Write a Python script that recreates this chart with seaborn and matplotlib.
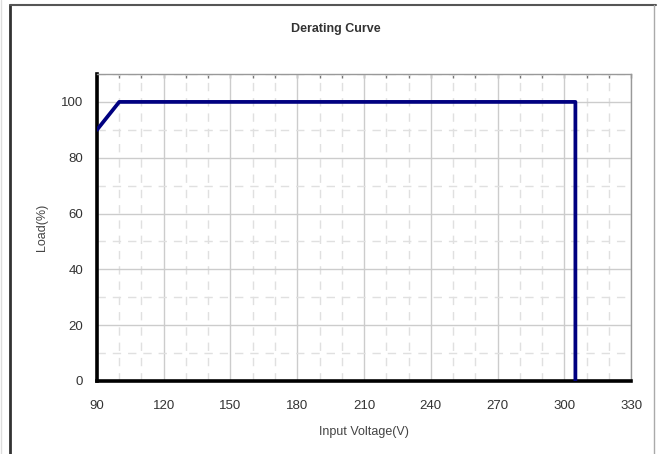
import matplotlib
matplotlib.use("Agg")
import matplotlib.pyplot as plt
from matplotlib.lines import Line2D
from matplotlib.ticker import MultipleLocator
import pandas as pd
import seaborn as sns

# data
voltage = [90, 100, 305, 305]
load = [90, 100, 100, 0]
x_ticks = [90, 120, 150, 180, 210, 240, 270, 300, 330]
y_ticks = [0, 20, 40, 60, 80, 100]

df = pd.DataFrame({"Input Voltage(V)": voltage, "Load(%)": load})

sns.set_style("white")
plt.rcParams["font.family"] = ["Liberation Sans", "DejaVu Sans"]

fig = plt.figure(figsize=(6.58, 4.54), dpi=100)
ax = fig.add_axes([0.1474, 0.1608, 0.8116, 0.6762])

sns.lineplot(data=df, x="Input Voltage(V)", y="Load(%)", sort=False,
             estimator=None, color="#000080", linewidth=2.7, ax=ax, zorder=5)

ax.set_xlim(90, 330)
ax.set_ylim(0, 110)
ax.set_xticks(x_ticks)
ax.set_yticks(y_ticks)
ax.xaxis.set_minor_locator(MultipleLocator(10))
ax.yaxis.set_minor_locator(MultipleLocator(10))

ax.grid(which="major", color="#cccccc", linewidth=1.0, linestyle="-")
ax.grid(which="minor", color="#e0e0e0", linewidth=1.0, linestyle=(0, (6, 5)))
ax.set_axisbelow(True)

for side in ["left", "bottom"]:
    ax.spines[side].set_color("black")
    ax.spines[side].set_linewidth(2.6)
for side in ["top", "right"]:
    ax.spines[side].set_color("#999999")
    ax.spines[side].set_linewidth(1.0)

ax.tick_params(which="major", direction="in", length=4, width=2, color="black",
               labelsize=9.5, labelcolor="#333333")
ax.tick_params(axis="x", which="major", pad=14)
ax.tick_params(axis="y", which="major", pad=10)
ax.tick_params(which="minor", length=0)

top = ax.secondary_xaxis("top")
top.set_xticks(range(90, 331, 10))
top.tick_params(direction="in", length=3, width=1, color="#777777", labeltop=False)
top.spines["top"].set_visible(False)

ax.set_xlabel("Input Voltage(V)", fontsize=9, color="#444444", labelpad=10)
ax.set_ylabel("Load(%)", fontsize=9, color="#444444", labelpad=9)
fig.text(0.51, 0.937, "Derating Curve", ha="center", va="center",
         fontsize=9, color="#333333", fontweight="bold")

# outer frame of the figure
fig.add_artist(Line2D([10 / 658, 10 / 658], [0, 1 - 5 / 454], color="#333333", linewidth=2))
fig.add_artist(Line2D([10 / 658, 656 / 658], [1 - 5 / 454, 1 - 5 / 454], color="#555555", linewidth=1.5))
fig.add_artist(Line2D([654 / 658, 654 / 658], [0, 1 - 5 / 454], color="#aaaaaa", linewidth=1))
fig.add_artist(Line2D([1 / 658, 1 / 658], [0, 1], color="#dddddd", linewidth=1))

fig.savefig("out.png", dpi=100)
